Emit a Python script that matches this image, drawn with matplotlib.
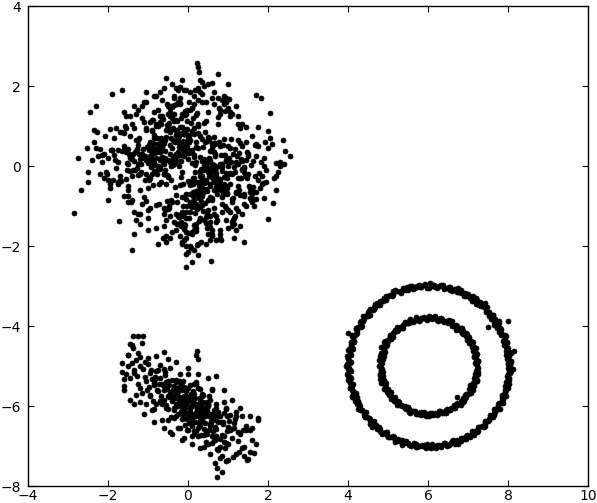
import numpy as np
import matplotlib
matplotlib.use("Agg")
import matplotlib.pyplot as plt

# ---- Gaussian blob around (0, 0) ----
blob1_x = [
0.12,-0.85,1.34,-0.23,0.67,-1.52,0.05,0.91,-0.44,1.78,
-0.67,0.33,-1.12,0.48,-0.09,2.21,-1.87,0.76,-0.31,1.05,
0.22,-0.58,1.63,-2.35,0.41,-0.16,0.89,-0.97,0.14,1.27,
-1.33,0.57,-0.72,2.05,-0.03,0.69,-1.61,0.28,-0.49,1.12,
-0.21,0.83,-1.04,0.37,1.46,-0.62,0.09,-1.76,0.54,-0.35,
0.98,-0.12,1.19,-0.81,0.26,-2.08,0.63,-0.4,1.57,0.02,
-0.93,0.45,-0.27,1.88,-1.41,0.17,0.72,-0.66,1.01,-0.08,
-1.22,0.31,2.43,-0.53,0.86,-0.19,-1.68,0.59,0.11,-0.77,
1.39,-0.36,0.04,-1.09,0.79,-2.52,0.43,1.24,-0.59,0.19,
-0.14,0.95,-1.47,0.61,-0.29,1.71,-0.87,0.07,0.52,-1.95,
0.36,-0.69,1.15,-0.01,-1.28,0.84,0.24,-0.45,2.12,-0.98,
0.66,-0.24,-1.58,1.31,0.15,-0.51,0.93,-0.11,-2.21,0.47,
1.08,-0.79,0.29,-0.33,1.52,-1.16,0.71,0.03,-0.61,0.39,
-1.83,1.22,-0.06,0.58,-0.91,0.18,1.67,-0.42,-1.36,0.81,
0.27,-0.17,2.31,-0.73,0.49,-1.01,0.1,0.74,-2.67,0.34,
-0.38,1.43,-0.55,0.2,-1.19,0.88,-0.07,1.09,-0.83,0.53,
-1.44,0.64,-0.26,1.82,0.01,-0.64,0.97,-1.71,0.32,-0.13,
1.28,-0.47,0.06,-2.03,0.77,-0.88,0.42,1.61,-0.2,-1.25,
0.55,0.16,-0.71,1.36,-0.04,-1.55,0.9,0.23,-0.37,2.56,
-0.95,0.62,-1.3,0.08,0.85,-0.52,1.17,-1.9,0.3,-0.15,
0.73,-1.07,0.46,-0.28,1.93,-0.7,0.13,-1.49,1.02,-0.02,
-0.6,0.38,-2.28,0.94,0.21,-0.41,1.48,-1.14,0.6,-0.22,
1.13,-0.84,0.35,-1.64,0.7,0.0,-0.5,1.74,-1.38,0.25,
-0.1,0.8,-0.94,0.44,-2.44,1.2,-0.32,0.51,-1.2,0.99,
0.14,-0.75,1.55,-0.18,-1.4,0.65,0.4,-0.57,1.06,-1.05,
-2.75,0.5,-0.25,0.92,-1.6,1.99,0.11,-0.46,0.75,-0.89,
0.19,-1.26,1.41,-0.05,0.68,-2.15,0.37,-0.34,1.25,-0.63,
1.69,-0.99,0.03,-1.42,0.56,-0.17,2.38,-0.78,0.26,-1.11,
-0.43,0.87,-1.73,0.09,1.33,-0.56,0.48,-2.0,0.82,-0.23,
0.6,-1.35,0.17,1.11,-0.68,-0.02,-1.5,0.96,0.3,2.0,
0.22,0.25,0.28,-2.85,-0.05,0.1,-2.3,-2.5,-1.9,1.4,
0.31,-0.42,0.77,-0.15,0.53,-0.88,0.06,1.12,-0.61,0.24,
-0.33,0.49,-1.05,0.18,0.92,-0.27,0.65,-0.71,0.02,1.34,
-0.96,0.37,-0.08,0.81,-0.49,0.13,-1.28,0.58,0.29,-0.19,
0.71,-0.55,1.47,-0.02,-0.82,0.44,0.09,-0.36,1.01,-1.17,
0.26,-0.13,0.63,-0.67,0.15,1.22,-0.44,0.87,-1.52,0.35,
-0.05,0.54,-0.91,0.21,-0.3,0.76,1.63,-0.58,0.11,-1.02,
0.41,-0.24,0.97,-0.74,0.03,-1.39,0.68,0.19,-0.47,1.18,
-0.12,0.85,-0.63,0.32,-1.1,0.55,-0.21,1.4,-0.85,0.07,
0.6,-0.38,0.16,-0.99,1.06,-0.07,0.39,-1.6,0.73,-0.28,
1.29,-0.52,0.23,-0.14,0.88,-1.23,0.47,0.01,-0.7,1.75,
-0.41,0.12,-0.86,0.66,-0.02,0.95,-1.45,0.3,-0.26,0.59,
0.05,-0.78,1.15,-0.34,0.42,-1.06,0.27,0.79,-0.53,-0.1,
0.98,-0.46,0.14,-1.33,0.52,-0.18,1.57,-0.66,0.36,-0.04,
-0.9,0.69,-0.29,0.2,1.08,-0.6,0.45,-1.19,0.1,-0.37,
0.83,-0.11,-1.74,0.57,0.25,-0.8,1.33,-0.23,0.62,-0.45,
0.08,1.21,-0.97,0.34,-0.16,0.74,-0.57,-1.38,0.46,1.02,
-0.31,0.18,-0.75,0.9,-0.04,0.5,-1.12,0.28,1.44,-0.65,
0.37,-0.2,0.67,-0.92,0.13,-0.5,1.11,-0.09,-1.56,0.8,
-0.36,0.04,0.94,-0.7,0.22,1.68,-0.43,0.56,-1.0,0.15,
-0.18,0.72,-1.27,0.4,-0.06,1.26,-0.62,0.33,0.0,-0.84,
1.5,-0.25,0.61,-0.48,0.11,-1.44,0.86,-0.13,0.38,-0.77,
0.2,-0.56,1.04,-0.02,-0.94,0.48,0.7,-0.32,-1.65,0.93,
-0.08,0.34,-0.68,1.36,0.17,-0.41,0.6,-1.08,0.24,-0.17,
0.78,-0.89,0.06,0.43,-0.3,1.17,-0.51,0.12,-1.35,0.55,
-0.22,0.99,-0.64,0.29,-1.18,0.02,0.66,-0.37,1.59,-0.73,
0.15,-0.07,0.52,-0.98,0.84,-0.28,0.31,1.9,-0.57,-0.01,
-1.85,0.45,-0.19,0.77,-0.81,0.09,1.24,-0.44,0.58,-1.25,
0.32,-0.11,0.89,-0.6,0.19,-0.35,1.09,-1.5,0.64,0.04,
-0.54,1.3,-0.27,0.35,-0.96,0.71,-0.06,-0.72,0.5,1.83,
-1.93,0.23,-0.4,0.96,-0.15,0.6,-0.87,0.14,-2.1,2.2,
-1.15,0.95,-0.35,1.45,-1.75,0.6,-0.8,1.85,-0.1,1.2,
-1.55,0.25,1.0,-0.6,2.1,-1.3,0.45,-2.05,0.8,-0.25,
1.6,-0.95,0.1,-1.85,1.3,-0.45,0.7,-1.4,1.95,-0.7,
0.35,-2.2,1.15,-0.15,-1.05,1.7,-0.55,0.9,-1.65,0.05,
1.4,-0.85,-2.4,0.55,-0.3,1.05,-1.2,2.3,-0.65,0.2,
-1.5,0.75,-0.05,1.55,-1.0,0.4,-1.9,1.25,-0.4,0.85,
2.0,-1.35,0.15,-0.75,1.35,-2.0,0.65,-0.2,1.8,-1.1,
-0.5,1.1,-1.6,0.3,2.25,-0.9,0.5,-1.25,1.5,-0.35,
-2.15,0.95,-0.6,1.65,-1.45,0.0,1.2,-0.95,0.6,-1.8,
1.9,-0.15,-1.05,0.7,-2.35,1.4,-0.45,0.25,-1.5,1.0,
-0.8,1.75,-0.25,-1.7,0.85,-1.15,2.15,-0.55,0.45,-2.1,
1.25,-0.7,0.1,-1.3,1.6,-0.1,-0.9,2.05,-1.95,0.6,
-0.45,1.5,-1.4,0.35,-0.75,1.0,-2.5,0.8,-0.3,1.7,
-1.0,0.2,1.35,-1.6,0.55,-0.2,1.9,-1.25,0.95,-0.6,
0.4,-1.8,1.15,-0.4,-2.25,1.55,-0.85,0.1,1.25,-1.5,
2.4,-0.3,0.65,-1.1,0.25,-1.7,1.45,-0.65,-0.05,1.85,
-1.25,0.5,-0.5,1.1,-2.0,0.75,-0.1,1.6,-1.55,0.3,
0.9,-0.95,1.95,-0.2,-1.35,0.15,1.3,-2.3,0.5,-0.8,
-0.15,1.2,-1.75,0.65,1.7,-0.6,-1.05,0.35,2.2,-1.2,
0.8,-0.45,-1.95,1.4,-0.7,0.05,1.05,-1.45,0.55,-0.05,
]
blob1_y = [
-0.45,0.78,0.12,-1.23,0.56,-0.09,1.41,-0.67,0.31,-0.18,
1.05,-0.88,0.24,0.63,-1.56,0.07,-0.35,1.22,-0.72,0.44,
-1.97,0.19,-0.53,0.91,0.02,-1.14,0.68,-0.27,1.76,-0.61,
0.36,-0.04,-0.96,1.33,0.51,-0.41,0.83,-1.38,0.15,-0.79,
1.58,0.27,-0.2,-0.65,0.97,-1.81,0.4,0.09,-0.5,1.12,
-0.31,0.62,-1.06,0.21,-2.22,0.74,-0.13,1.47,-0.86,0.33,
0.05,-1.28,0.89,-0.42,0.17,1.91,-0.58,0.48,-0.01,-1.47,
0.71,-0.24,0.38,1.02,-0.77,0.13,-0.37,2.08,-0.93,0.55,
-0.16,1.29,-0.69,0.26,-1.69,0.46,0.84,-0.29,0.06,-1.02,
2.14,-0.54,0.31,-0.11,1.16,-0.83,0.58,-2.05,0.2,0.93,
-0.46,0.14,-1.31,0.77,-0.06,1.64,-0.39,0.11,-0.92,0.52,
-1.19,0.36,0.99,-0.73,0.23,-0.28,1.37,-1.58,0.42,-0.03,
0.67,-0.97,1.84,0.08,-0.51,0.29,-1.41,0.6,-0.21,1.08,
0.16,-0.66,0.45,-2.38,0.87,-0.14,0.53,-0.85,1.5,-0.33,
-0.81,1.19,0.01,-0.44,0.72,-1.11,0.35,2.31,-0.6,0.12,
0.94,-0.25,-1.74,0.47,0.18,-0.56,1.27,-0.9,0.03,0.69,
-0.12,0.57,-1.24,1.71,-0.38,0.22,-0.7,0.85,-1.9,0.41,
0.32,-1.05,0.64,-0.19,1.44,-0.48,0.1,-0.82,1.98,-0.23,
-1.52,0.79,-0.07,0.5,-1.16,0.96,0.28,-0.62,0.15,0.25,
1.09,-0.32,0.66,-0.89,0.04,1.56,-1.26,0.39,-0.15,0.82,
-0.57,0.25,1.13,-1.44,0.61,-0.02,-0.76,0.43,1.68,-1.01,
0.09,-0.4,0.86,-0.17,-1.62,1.21,0.34,-0.95,0.55,0.0,
-1.35,0.7,-0.26,1.89,-0.52,0.18,-1.08,0.98,-0.1,0.46,
0.81,-1.79,0.24,-0.35,1.35,-0.68,0.59,-0.08,-1.2,2.05,
-0.29,1.01,-0.64,0.13,-2.1,0.73,-0.43,0.37,1.25,-0.87,
0.2,-0.14,1.6,-0.99,0.49,-1.33,0.07,0.92,-0.47,0.3,
-0.71,1.4,-0.05,-1.65,0.58,0.27,-0.36,1.15,-1.12,0.11,
1.77,-0.55,0.4,-0.91,0.14,-1.5,0.65,-0.2,1.03,-0.78,
-0.01,0.53,-1.37,0.88,-0.3,2.2,-0.63,0.19,-1.86,0.75,
0.44,-1.15,0.02,1.3,-0.4,0.6,-0.74,0.16,-1.0,0.87,
2.58,2.47,2.36,-1.18,-2.52,-2.4,1.5,-0.4,1.8,-1.9,
0.22,-0.35,0.61,-0.78,0.09,0.44,-1.16,0.31,-0.2,0.83,
-0.52,0.13,0.95,-0.4,0.27,-0.91,0.02,0.68,-1.3,-0.11,
0.56,-0.66,0.37,0.05,-0.24,1.19,0.41,-0.83,0.74,-0.47,
-0.06,0.89,-0.29,1.41,0.34,-0.58,-1.02,0.18,0.49,-0.15,
1.05,-0.44,-0.12,0.7,-1.48,0.26,0.53,-0.7,0.08,-0.97,
-0.82,0.38,-0.19,1.27,0.63,-0.33,0.12,-1.1,0.86,0.47,
0.15,0.73,-0.54,-0.08,1.6,-0.26,0.31,-0.62,-0.99,0.42,
-1.25,0.04,0.55,-0.37,0.21,-0.77,0.97,-0.02,0.33,1.08,
-0.28,0.65,-1.61,0.12,-0.45,0.82,-0.1,0.39,-0.71,0.24,
0.57,-0.88,1.33,-0.16,-0.5,0.29,-1.21,0.71,0.45,-0.35,
0.92,-0.3,0.07,-0.6,1.12,-1.05,0.19,-0.13,0.6,-0.84,
-0.45,0.36,-0.02,1.7,-0.92,0.14,-0.63,0.5,-0.23,0.79,
-0.68,1.24,0.27,-0.1,0.66,-1.39,0.03,0.41,-0.55,-1.8,
0.35,-0.17,0.88,-0.95,0.11,0.58,-0.4,-0.21,1.46,0.03,
-0.59,0.24,0.4,-0.14,-0.75,0.99,0.17,-1.27,0.52,0.86,
-1.0,0.09,-0.36,0.67,0.46,-0.53,-0.1,0.3,-1.43,0.2,
0.78,-0.67,0.01,-0.28,1.31,-0.86,0.43,-0.49,0.14,0.61,
-1.13,0.55,0.26,-0.02,-0.64,1.02,-0.19,0.81,-0.33,-0.41,
1.53,-0.9,0.13,0.36,-1.07,-0.24,0.69,-0.46,0.08,0.96,
-0.27,-1.35,0.42,0.18,-0.7,0.04,1.18,-0.57,0.32,-0.12,
-0.2,0.63,-0.8,1.07,-0.38,0.24,-0.03,-1.0,0.48,0.7,
0.11,-0.46,-0.18,0.92,0.5,-1.55,-0.31,0.16,0.37,-0.61,
1.38,-0.76,0.21,-0.08,-1.17,0.45,0.06,-0.34,1.0,0.28,
-0.52,0.17,-0.94,0.6,0.31,-0.14,0.9,-0.69,0.12,-1.26,
0.47,-0.2,1.21,-1.02,0.05,0.74,-0.4,0.19,-0.63,-0.03,
-0.85,0.54,-0.25,0.39,-0.12,1.12,-0.73,0.2,0.66,-1.67,
0.28,-0.6,0.81,0.0,0.43,-0.96,-0.5,1.35,-0.16,0.52,
-0.07,0.92,-0.44,-1.2,0.61,0.26,-0.82,0.06,0.34,-0.47,
0.73,-0.3,1.56,-0.71,0.15,-0.26,-2.0,0.55,-1.1,0.1,
0.4,1.9,-0.9,-0.5,0.97,-1.7,1.15,-1.62,-0.3,-0.6,
1.2,-1.35,1.75,0.6,-0.45,-1.6,1.05,-0.25,-1.85,1.5,
0.35,1.65,-1.1,-1.5,0.55,1.3,-1.95,-0.15,1.4,1.9,
-0.9,-1.05,-1.7,0.7,0.95,1.45,-1.25,-0.85,-0.4,1.1,
1.8,-0.2,-1.45,-1.9,1.6,0.25,-1.35,1.55,0.85,-2.0,
-0.7,1.35,0.15,-1.7,1.95,-1.15,-0.6,0.1,1.25,-1.55,
-0.5,1.7,-2.2,-0.8,-1.3,2.0,0.4,1.05,-1.65,-0.95,
0.45,0.95,1.55,-1.95,-1.2,-0.35,1.85,-1.75,-0.55,1.6,
1.5,-1.5,-0.75,-1.3,-0.15,1.15,2.05,0.65,0.3,-1.4,
0.1,1.6,1.95,-1.0,1.25,-2.15,-1.6,-0.3,1.7,-0.05,
-0.8,1.3,1.85,-1.85,0.6,-0.95,-1.25,1.95,-0.9,1.45,
1.75,0.5,-1.45,-0.35,-1.15,1.5,-0.3,-1.9,1.6,0.3,
1.25,1.85,-1.65,-1.35,-0.7,1.9,0.9,0.7,-0.55,-1.75,
-1.8,0.25,1.05,2.1,1.4,-1.55,-0.15,1.3,-1.2,-0.65,
-1.6,-1.45,1.05,1.35,-1.85,1.55,0.0,0.05,1.7,-1.05,
-1.35,0.95,-1.8,2.05,0.25,-0.55,1.75,1.45,0.65,-0.6,
0.05,-1.6,1.55,1.1,-1.95,-0.25,-1.0,1.65,1.9,-0.45,
-1.2,-1.7,1.3,-1.4,-0.85,1.05,-1.45,0.75,1.25,2.15,
1.75,0.6,-0.1,1.7,-1.7,-2.1,-1.5,0.45,1.35,-1.55,
-1.95,-0.65,-0.4,-1.05,0.55,-1.8,0.9,1.6,-0.25,-1.45,
-1.6,1.5,-0.45,-0.75,1.25,1.85,1.35,0.75,-1.4,-1.3,
]

# ---- elongated blob around (0, -6) ----
blob2_x = [
0.12,-0.54,0.87,-1.21,0.33,-0.08,1.35,-0.76,0.51,-0.3,
0.02,0.68,-1.55,0.24,-0.45,1.02,-0.17,0.41,-0.92,0.79,
-0.23,0.15,1.6,-0.64,0.56,-1.08,0.3,-0.02,0.95,-0.38,
0.07,-1.37,0.62,-0.51,1.18,-0.11,0.44,-0.83,0.21,-0.29,
0.73,-1.66,0.38,-0.6,1.47,-0.05,0.18,-0.97,0.89,-0.41,
0.05,0.6,-1.19,0.27,-0.69,1.25,-0.14,0.49,-0.33,0.82,
-0.88,0.1,1.75,-0.47,0.35,-1.45,0.67,-0.2,0.98,-0.72,
0.0,0.45,-1.02,0.2,1.12,-0.57,0.58,-0.26,0.32,-0.1,
0.76,-1.28,0.14,-0.43,1.38,-0.79,0.53,-0.15,0.39,-0.62,
0.91,0.06,-1.13,0.26,-0.36,0.71,-0.03,1.56,-0.53,0.43,
-0.95,0.16,0.85,-0.24,0.63,-1.5,0.09,-0.68,1.07,0.29,
-0.12,0.52,-0.86,0.03,1.28,-0.4,0.37,-0.18,0.8,-1.34,
0.23,-0.56,0.65,-0.07,0.97,0.19,-0.71,0.7,-0.3,1.45,
-1.08,0.42,-0.16,0.11,0.56,-0.49,0.88,-0.9,0.3,-0.22,
1.15,-0.6,0.04,0.61,-1.6,0.48,-0.35,0.14,1.65,-0.48,
0.75,-1.25,0.36,-0.09,0.93,-0.77,0.25,-0.28,0.55,1.0,
-1.4,-0.58,0.08,0.47,-0.13,0.33,-0.82,0.72,1.3,
0.22,0.2,0.24,0.675,0.725,0.85,0.725,
-1.375,-1.25,-1.125,-1.4,-1.15,
-0.2,0.4,-0.9,0.9,-0.5,0.15,1.2,-1.3,0.6,-0.1,
0.35,-0.65,1.5,-1.0,0.05,0.75,-0.35,1.05,-0.75,0.28,
-1.5,0.52,-0.05,1.7,-0.45,0.18,-0.85,0.66,-0.25,1.35,
-1.15,0.45,-0.6,0.95,0.1,-0.3,0.8,-1.45,0.3,-0.15,
1.1,-0.7,0.58,-0.95,0.22,1.55,-0.4,0.0,0.7,-1.2,
0.4,-0.55,1.0,-0.1,0.5,-0.8,0.25,1.25,-0.3,0.12,
-1.6,0.85,-0.5,0.6,-0.05,0.35,-1.05,1.4,0.2,-0.2,
0.95,-0.65,0.48,-1.35,0.05,0.7,-0.35,1.15,-0.85,0.3,
0.0,0.1,-0.2,0.25,-0.1,0.35,-0.3,0.15,0.45,-0.05,
0.2,-0.15,0.05,0.3,-0.25,0.55,-0.4,0.1,-0.08,0.4,
-1.6,-1.45,-1.2,-1.0,-0.8,-0.6,-0.3,0.0,0.25,0.5,
0.7,0.9,1.1,1.3,1.55,1.75,1.6,1.4,1.2,1.0,
0.8,0.55,0.3,0.1,-0.15,-0.4,-0.6,-0.85,-1.1,-1.35,
-1.65,-1.5,-1.3,-0.45,0.15,0.6,1.2,0.45,-0.25,-0.95,
-0.7,-0.15,0.35,0.95,1.45,0.7,0.0,-0.5,-1.05,-1.25,
0.5,0.2,-0.05,0.3,-0.35,0.65,0.9,1.05,-0.2,-0.55,
]
blob2_y = [
-5.87,-5.98,-6.45,-4.77,-6.72,-5.90,-7.06,-5.63,-5.95,-5.54,
-6.42,-6.53,-5.2,-5.54,-5.68,-6.37,-6.16,-6.18,-5.09,-7.03,
-5.37,-6.24,-6.84,-5.96,-6.2,-5.28,-5.87,-6.59,-6.93,-5.61,
-5.69,-4.56,-6.63,-5.74,-6.32,-5.85,-6.65,-5.27,-6.17,-6.25,
-6.23,-4.92,-5.73,-5.85,-7.36,-5.8,-6.4,-5.52,-6.18,-5.36,
-6.22,-6.34,-5.56,-6.26,-4.97,-6.88,-6.21,-6.94,-5.81,-6.4,
-5.88,-5.8,-6.35,-5.47,-6.36,-4.46,-6.86,-5.77,-6.62,-5.46,
-5.55,-6.02,-5.59,-6.63,-7.28,-5.16,-6.43,-6.0,-6.14,-6.06,
-6.14,-5.26,-5.97,-6.27,-6.6,-5.13,-6.6,-5.6,-6.72,-5.48,
-6.75,-6.04,-5.07,-5.97,-6.05,-5.95,-6.33,-7.16,-5.57,-6.25,
-5.73,-5.69,-7.25,-5.63,-6.19,-4.72,-6.31,-5.76,-6.58,-6.39,
-5.37,-6.26,-5.42,-5.87,-7.16,-5.87,-5.9,-5.97,-6.82,-5.18,
-6.13,-5.39,-6.09,-6.47,-6.25,-5.44,-5.89,-6.58,-5.41,-6.59,
-4.9,-6.42,-5.9,-6.49,-5.86,-6.08,-6.39,-5.32,-6.5,-5.91,
-6.55,-5.61,-5.78,-6.75,-5.51,-5.89,-5.76,-6.69,-7.17,-5.77,
-6.41,-4.67,-6.08,-5.52,-7.05,-5.6,-6.56,-5.67,-6.51,-6.53,
-4.92,-5.22,-6.0,-6.11,-6.12,-5.95,-5.32,-7.07,-6.7,
-4.62,-4.72,-4.82,-7.43,-7.55,-7.65,-7.78,
-4.25,-4.25,-4.25,-4.48,-4.43,
-5.19,-7.02,-6.1,-5.9,-4.82,-6.63,-6.16,-5.73,-5.58,-6.8,
-5.74,-6.34,-7.33,-4.8,-5.48,-7.11,-6.31,-6.23,-5.09,-6.45,
-4.72,-5.74,-5.62,-6.94,-6.65,-5.8,-5.48,-6.86,-5.61,-6.24,
-5.67,-6.15,-5.07,-7.37,-6.76,-5.34,-6.24,-5.3,-5.57,-6.32,
-6.81,-5.87,-6.37,-5.18,-6.07,-6.6,-5.63,-5.2,-6.04,-4.99,
-6.57,-6.05,-6.95,-5.75,-5.98,-5.96,-6.74,-6.64,-5.99,-5.62,
-5.32,-6.72,-5.38,-6.93,-6.17,-6.04,-5.37,-7.02,-5.41,-6.54,
-6.07,-5.44,-6.71,-5.11,-6.13,-6.34,-5.51,-6.43,-6.08,-6.22,
-6.2,-6.0,-5.85,-6.1,-6.3,-6.3,-5.95,-6.2,-6.2,-5.75,
-5.95,-6.1,-6.4,-5.8,-6.2,-6.45,-5.8,-5.85,-6.05,-6.05,
-5.6,-5.85,-5.9,-4.95,-4.75,-4.65,-4.9,-5.05,-5.2,-5.3,
-5.25,-5.6,-5.85,-6.05,-6.25,-6.3,-6.55,-7.25,-7.2,-7.35,
-7.3,-7.2,-7.05,-6.95,-6.85,-6.7,-6.55,-6.4,-6.2,-5.95,
-5.15,-5.0,-4.85,-5.05,-5.45,-5.6,-6.25,-6.9,-6.55,-5.75,
-5.3,-5.4,-5.7,-6.05,-6.5,-6.75,-6.6,-6.35,-5.95,-5.45,
-6.0,-6.25,-5.95,-6.35,-6.1,-6.3,-6.9,-6.6,-5.5,-5.55,
]

# ---- two concentric rings around (6, -5): angle (deg) and radius per point ----
ring_cx, ring_cy = 6.02, -5.0
outer_angle = [
0.4,2.3,3.6,6.1,8.2,9.5,12.4,13.8,16.1,18.7,
19.9,22.2,24.6,25.7,28.3,30.1,32.5,33.9,36.2,38.4,
39.6,42.1,44.5,45.8,48.3,50.2,51.7,54.0,56.4,57.9,
60.3,62.1,63.8,66.2,68.5,69.7,72.1,74.4,75.9,78.2,
80.3,81.6,84.2,86.5,87.8,90.1,92.4,93.7,96.3,98.2,
99.8,102.1,104.5,105.6,108.2,110.4,111.7,114.1,116.3,117.9,
120.4,122.2,123.5,126.1,128.4,129.8,132.2,134.1,135.9,138.3,
140.2,141.6,144.0,146.3,147.8,150.2,152.5,153.6,156.1,158.3,
159.7,162.2,164.4,165.9,168.1,170.3,171.8,174.2,176.5,177.7,
180.2,182.4,183.9,186.1,188.3,189.6,192.2,194.4,195.8,198.1,
200.5,201.7,204.3,206.2,207.9,210.1,212.4,213.6,216.2,218.5,
219.8,222.1,224.3,225.7,228.2,230.4,231.9,234.1,236.2,237.8,
240.3,242.5,243.7,246.1,248.4,249.9,252.2,254.3,255.8,258.1,
260.4,261.7,264.2,266.5,267.8,270.1,272.3,273.9,276.2,278.4,
279.6,282.1,284.5,285.8,288.2,290.3,291.7,294.1,296.4,297.9,
300.2,302.5,303.6,306.1,308.3,309.8,312.2,314.4,315.7,318.1,
320.3,321.9,324.2,326.5,327.8,330.1,332.4,333.7,336.2,338.3,
339.9,342.1,344.5,345.8,348.2,350.4,351.6,354.1,356.3,357.9,
33.7,32.0,29.8,10.0,158.0,
1.2,3.0,5.3,7.1,8.9,11.2,13.0,15.3,17.1,18.9,
21.2,23.0,25.3,27.1,28.9,31.2,33.0,35.3,37.1,38.9,
41.2,43.0,45.3,47.1,48.9,51.2,53.0,55.3,57.1,58.9,
61.2,63.0,65.3,67.1,68.9,71.2,73.0,75.3,77.1,78.9,
81.2,83.0,85.3,87.1,88.9,91.2,93.0,95.3,97.1,98.9,
101.2,103.0,105.3,107.1,108.9,111.2,113.0,115.3,117.1,118.9,
121.2,123.0,125.3,127.1,128.9,131.2,133.0,135.3,137.1,138.9,
141.2,143.0,145.3,147.1,148.9,151.2,153.0,155.3,157.1,158.9,
161.2,163.0,165.3,167.1,168.9,171.2,173.0,175.3,177.1,178.9,
181.2,183.0,185.3,187.1,188.9,191.2,193.0,195.3,197.1,198.9,
201.2,203.0,205.3,207.1,208.9,211.2,213.0,215.3,217.1,218.9,
221.2,223.0,225.3,227.1,228.9,231.2,233.0,235.3,237.1,238.9,
241.2,243.0,245.3,247.1,248.9,251.2,253.0,255.3,257.1,258.9,
261.2,263.0,265.3,267.1,268.9,271.2,273.0,275.3,277.1,278.9,
281.2,283.0,285.3,287.1,288.9,291.2,293.0,295.3,297.1,298.9,
301.2,303.0,305.3,307.1,308.9,311.2,313.0,315.3,317.1,318.9,
321.2,323.0,325.3,327.1,328.9,331.2,333.0,335.3,337.1,338.9,
341.2,343.0,345.3,347.1,348.9,351.2,353.0,355.3,357.1,358.9,
]
outer_radius = [
2.03,1.97,2.05,2.0,1.95,2.07,2.01,1.98,2.04,1.96,
2.02,2.06,1.99,1.94,2.03,2.0,2.08,1.97,2.01,2.05,
1.96,2.02,1.99,2.04,2.1,1.98,2.0,2.03,1.95,2.06,
2.01,1.97,2.04,2.0,1.98,2.07,2.02,1.96,2.03,1.99,
2.05,2.01,1.97,2.04,2.0,1.95,2.06,2.02,1.98,2.03,
1.99,2.05,2.01,1.96,2.04,2.0,1.98,2.07,2.02,1.97,
2.03,1.99,2.05,2.01,1.96,2.04,2.0,1.98,2.06,2.02,
1.97,2.03,1.99,2.05,2.01,1.95,2.04,2.0,1.98,2.07,
2.02,1.96,2.03,1.99,2.05,2.01,1.97,2.04,2.0,1.98,
2.06,2.02,1.96,2.03,1.99,2.05,2.01,1.97,2.04,2.0,
1.95,2.07,2.02,1.98,2.03,1.99,2.05,2.01,1.96,2.04,
2.0,1.98,2.06,2.02,1.97,2.03,1.99,2.05,2.01,1.95,
2.04,2.0,1.98,2.07,2.02,1.96,2.03,1.99,2.05,2.01,
1.97,2.04,2.0,1.98,2.06,2.02,1.96,2.03,1.99,2.05,
2.01,1.97,2.04,2.0,1.95,2.07,2.02,1.98,2.03,1.99,
2.05,2.01,1.96,2.04,2.0,1.98,2.06,2.02,1.97,2.03,
1.99,2.05,2.01,1.95,2.04,2.0,1.98,2.07,2.02,1.96,
2.03,1.99,2.05,2.01,1.97,2.04,2.0,1.98,2.06,2.11,
1.77,1.92,2.27,2.16,2.19,
1.99,2.06,1.96,2.03,2.08,1.98,2.02,1.95,2.05,2.0,
2.07,1.97,2.01,2.04,1.96,2.06,1.99,2.03,1.94,2.05,
2.0,1.97,2.06,2.02,1.98,2.04,1.95,2.07,2.01,1.99,
2.04,1.96,2.02,2.07,1.99,2.03,1.97,2.05,2.0,1.95,
2.06,2.01,1.98,2.03,2.08,1.96,2.02,1.99,2.05,2.0,
1.97,2.04,2.06,1.98,2.01,1.95,2.03,2.07,1.99,2.02,
2.05,1.96,2.0,2.04,1.97,2.06,2.02,1.98,2.03,1.95,
2.01,2.07,1.99,2.04,1.96,2.02,2.05,1.98,2.0,2.06,
1.97,2.03,2.01,1.95,2.05,1.99,2.07,2.02,1.96,2.04,
2.0,1.98,2.06,2.03,1.97,2.01,1.95,2.05,2.02,1.99,
2.07,1.96,2.04,2.0,1.98,2.06,2.01,1.97,2.03,2.05,
1.99,2.02,1.95,2.07,2.0,1.97,2.04,2.06,1.98,2.01,
2.03,1.96,2.05,1.99,2.02,2.08,1.97,2.0,2.04,1.95,
2.06,2.01,1.98,2.03,1.96,2.05,2.0,2.07,1.99,2.02,
1.97,2.04,2.01,1.95,2.06,1.98,2.03,2.0,2.05,1.96,
2.02,2.07,1.99,2.04,1.97,2.01,2.06,1.98,2.03,2.0,
1.95,2.05,2.02,1.99,2.07,1.96,2.04,2.01,1.98,2.06,
2.0,2.03,1.97,2.05,1.99,2.02,1.96,2.04,2.01,1.98,
]
inner_angle = [
1.2,4.1,6.3,9.4,12.2,14.8,18.1,20.6,23.9,27.2,
29.5,32.8,35.6,38.3,41.7,44.1,47.4,50.2,53.1,56.5,
59.3,62.0,65.4,68.2,70.9,74.1,77.3,79.8,83.2,86.1,
88.7,92.0,95.3,97.8,101.1,104.4,106.9,110.2,113.1,115.7,
119.0,122.3,124.8,128.1,131.2,133.6,137.0,140.2,142.7,146.1,
149.3,151.8,155.0,158.2,160.9,164.3,167.1,169.6,173.0,176.2,
178.8,182.1,185.3,187.7,191.0,194.2,196.8,200.1,203.3,205.9,
209.2,212.1,214.8,218.3,221.1,223.7,227.0,230.2,232.6,236.1,
239.2,241.7,245.0,248.3,250.8,254.1,257.2,259.9,263.1,266.3,
268.7,272.0,275.2,277.9,281.1,284.3,286.8,290.2,293.1,295.7,
299.0,302.3,304.8,308.1,311.2,313.9,317.1,320.2,322.8,326.1,
329.3,331.7,335.0,338.2,340.9,344.1,347.3,349.8,353.0,356.2,
158.0,313.0,
2.7,5.6,8.1,11.0,13.6,16.5,19.2,22.1,25.4,28.1,
31.0,34.2,37.1,39.9,42.8,45.7,48.6,51.5,54.6,57.7,
60.6,63.5,66.7,69.6,72.4,75.6,78.4,81.5,84.6,87.4,
90.3,93.6,96.5,99.4,102.6,105.5,108.4,111.6,114.4,117.3,
120.5,123.4,126.3,129.5,132.4,135.3,138.5,141.4,144.3,147.5,
150.4,153.3,156.5,159.4,162.3,165.5,168.4,171.3,174.5,177.4,
180.3,183.5,186.4,189.3,192.5,195.4,198.3,201.5,204.4,207.3,
210.5,213.4,216.3,219.5,222.4,225.3,228.5,231.4,234.3,237.5,
240.4,243.3,246.5,249.4,252.3,255.5,258.4,261.3,264.5,267.4,
270.3,273.5,276.4,279.3,282.5,285.4,288.3,291.5,294.4,297.3,
300.5,303.4,306.3,309.5,312.4,315.3,318.5,321.4,324.3,327.5,
330.4,333.3,336.5,339.4,342.3,345.5,348.4,351.3,354.5,357.6,
]
inner_radius = [
1.21,1.17,1.24,1.19,1.15,1.23,1.2,1.26,1.18,1.22,
1.16,1.21,1.25,1.19,1.23,1.17,1.2,1.24,1.14,1.22,
1.19,1.26,1.18,1.21,1.16,1.23,1.2,1.17,1.25,1.19,
1.22,1.15,1.24,1.2,1.18,1.26,1.21,1.17,1.23,1.19,
1.25,1.2,1.16,1.22,1.18,1.24,1.21,1.15,1.23,1.19,
1.2,1.26,1.17,1.22,1.19,1.24,1.16,1.21,1.25,1.18,
1.23,1.19,1.2,1.15,1.24,1.21,1.17,1.26,1.2,1.22,
1.18,1.23,1.16,1.21,1.25,1.19,1.22,1.17,1.24,1.2,
1.15,1.22,1.19,1.26,1.18,1.21,1.23,1.16,1.2,1.25,
1.21,1.17,1.24,1.19,1.22,1.15,1.2,1.26,1.18,1.23,
1.19,1.24,1.2,1.16,1.22,1.25,1.18,1.21,1.17,1.23,
1.2,1.26,1.15,1.22,1.19,1.24,1.21,1.17,1.23,1.2,
1.29,1.05,
1.18,1.24,1.2,1.16,1.25,1.21,1.17,1.23,1.19,1.26,
1.22,1.15,1.2,1.24,1.18,1.21,1.25,1.17,1.23,1.19,
1.16,1.22,1.26,1.2,1.18,1.24,1.15,1.21,1.23,1.19,
1.25,1.17,1.2,1.22,1.16,1.24,1.19,1.26,1.18,1.21,
1.23,1.15,1.2,1.25,1.17,1.22,1.19,1.24,1.16,1.21,
1.26,1.18,1.23,1.2,1.15,1.22,1.25,1.17,1.21,1.19,
1.24,1.16,1.2,1.23,1.18,1.26,1.22,1.15,1.19,1.25,
1.17,1.21,1.24,1.2,1.16,1.23,1.18,1.26,1.21,1.19,
1.22,1.15,1.25,1.2,1.17,1.24,1.19,1.23,1.16,1.21,
1.26,1.18,1.2,1.24,1.15,1.22,1.25,1.17,1.21,1.19,
1.23,1.16,1.2,1.26,1.18,1.24,1.21,1.15,1.22,1.25,
1.17,1.2,1.23,1.19,1.26,1.16,1.21,1.24,1.18,1.22,
]

x_ticks = [-4, -2, 0, 2, 4, 6, 8, 10]
y_ticks = [-8, -6, -4, -2, 0, 2, 4]

fig = plt.figure(figsize=(5.97, 5.03), dpi=100)
ax = fig.add_axes([28/597, 17/503, 560/597, 480/503])

oa = np.radians(outer_angle)
ia = np.radians(inner_angle)
outer_x = ring_cx + np.array(outer_radius) * np.cos(oa)
outer_y = ring_cy + np.array(outer_radius) * np.sin(oa)
inner_x = ring_cx + np.array(inner_radius) * np.cos(ia)
inner_y = ring_cy + np.array(inner_radius) * np.sin(ia)

all_x = np.concatenate([blob1_x, blob2_x, outer_x, inner_x])
all_y = np.concatenate([blob1_y, blob2_y, outer_y, inner_y])
ax.plot(all_x, all_y, linestyle='none', marker='o', ms=3.6,
        color='black', mec='black', mew=0.5)

ax.set_xlim(-4, 10)
ax.set_ylim(-8, 4)
ax.set_xticks(x_ticks)
ax.set_yticks(y_ticks)
ax.tick_params(direction='in', top=True, right=True, length=4.5, width=0.8,
               labelsize=10)
ax.tick_params(axis='x', pad=2.5)
ax.tick_params(axis='y', pad=5)
for s in ax.spines.values():
    s.set_linewidth(1.0)

fig.savefig("out.png", dpi=100)
